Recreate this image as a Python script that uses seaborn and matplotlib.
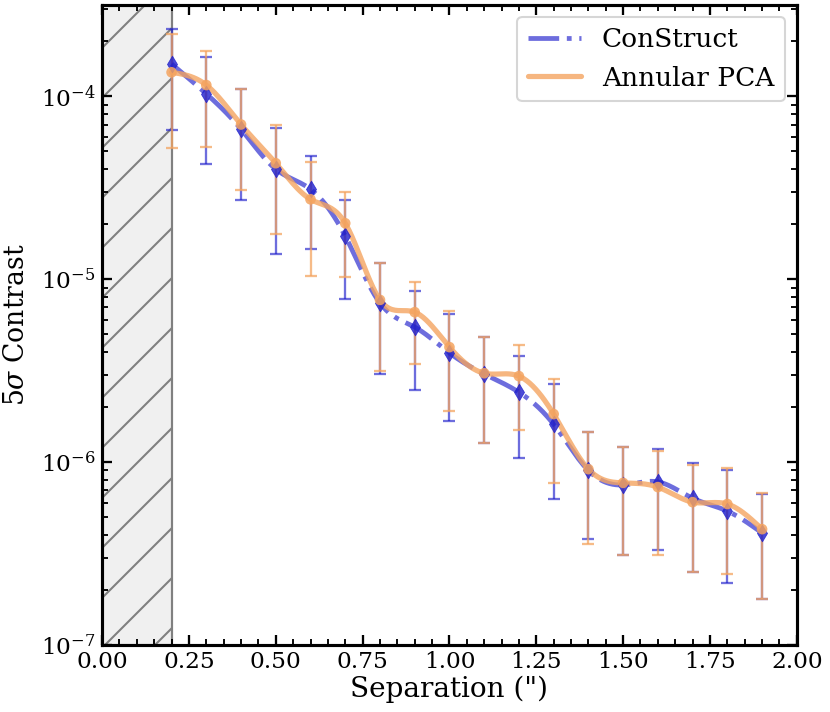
import numpy as np
import pandas as pd
import matplotlib
matplotlib.use("Agg")
import matplotlib.pyplot as plt
import seaborn as sns

# ---------------------------------------------------------------------------
# Data
# ---------------------------------------------------------------------------
separation = [0.2, 0.3, 0.4, 0.5, 0.6, 0.7, 0.8, 0.9, 1.0,
              1.1, 1.2, 1.3, 1.4, 1.5, 1.6, 1.7, 1.8, 1.9]

construct = [1.50e-4, 1.03e-4, 6.6e-5, 3.99e-5, 3.1e-5, 1.72e-5, 7.4e-6, 5.47e-6, 3.95e-6,
             3.03e-6, 2.41e-6, 1.61e-6, 9.0e-7, 7.5e-7, 7.8e-7, 6.35e-7, 5.4e-7, 4.1e-7]
construct_hi = [2.32e-4, 1.63e-4, 1.09e-4, 6.7e-5, 4.7e-5, 2.7e-5, 1.22e-5, 8.6e-6, 6.44e-6,
                4.82e-6, 3.8e-6, 2.67e-6, 1.46e-6, 1.21e-6, 1.18e-6, 9.9e-7, 9.0e-7, 6.7e-7]
construct_lo = [6.5e-5, 4.25e-5, 2.7e-5, 1.37e-5, 1.46e-5, 7.8e-6, 3.03e-6, 2.47e-6, 1.67e-6,
                1.27e-6, 1.05e-6, 6.3e-7, 3.8e-7, 3.1e-7, 3.3e-7, 2.5e-7, 2.18e-7, 1.78e-7]

annular_pca = [1.35e-4, 1.15e-4, 7.0e-5, 4.3e-5, 2.73e-5, 2.02e-5, 7.7e-6, 6.6e-6, 4.25e-6,
               3.06e-6, 2.95e-6, 1.83e-6, 9.15e-7, 7.7e-7, 7.3e-7, 6.04e-7, 5.9e-7, 4.3e-7]
annular_hi = [2.18e-4, 1.76e-4, 1.1e-4, 6.95e-5, 4.36e-5, 2.99e-5, 1.22e-5, 9.6e-6, 6.7e-6,
              4.82e-6, 4.35e-6, 2.84e-6, 1.46e-6, 1.21e-6, 1.15e-6, 9.6e-7, 9.3e-7, 6.8e-7]
annular_lo = [5.2e-5, 5.3e-5, 3.06e-5, 1.76e-5, 1.04e-5, 1.03e-5, 3.14e-6, 3.43e-6, 1.9e-6,
              1.27e-6, 1.5e-6, 7.7e-7, 3.56e-7, 3.1e-7, 3.1e-7, 2.5e-7, 2.44e-7, 1.78e-7]

inner_working_angle = 0.2


def smooth_curve(x, y, n=400):
    """Natural cubic spline through the points, done in log10(y)."""
    x = np.asarray(x, dtype=float)
    ly = np.log10(np.asarray(y, dtype=float))
    m = len(x)
    h = np.diff(x)
    a = np.zeros((m, m))
    b = np.zeros(m)
    a[0, 0] = a[-1, -1] = 1.0
    for i in range(1, m - 1):
        a[i, i - 1] = h[i - 1]
        a[i, i] = 2 * (h[i - 1] + h[i])
        a[i, i + 1] = h[i]
        b[i] = 3 * ((ly[i + 1] - ly[i]) / h[i] - (ly[i] - ly[i - 1]) / h[i - 1])
    c = np.linalg.solve(a, b)
    xs = np.linspace(x[0], x[-1], n)
    idx = np.clip(np.searchsorted(x, xs) - 1, 0, m - 2)
    dx = xs - x[idx]
    bb = (ly[idx + 1] - ly[idx]) / h[idx] - h[idx] * (2 * c[idx] + c[idx + 1]) / 3
    dd = (c[idx + 1] - c[idx]) / (3 * h[idx])
    ys = ly[idx] + bb * dx + c[idx] * dx ** 2 + dd * dx ** 3
    return xs, 10 ** ys


sns.set_style("ticks", {"axes.edgecolor": "black", "text.color": "black",
                        "xtick.color": "black", "ytick.color": "black",
                        "axes.labelcolor": "black"})
plt.rcParams["font.family"] = ["DejaVu Serif"]
plt.rcParams["mathtext.fontset"] = "dejavuserif"

blue = "#1f1fcc"
orange = "#f4a460"

DPI = 150
fig = plt.figure(figsize=(830 / DPI, 712 / DPI), dpi=DPI)
ax = fig.add_axes([0.123, 0.094, 0.837, 0.899])

# hatched region inside the inner working angle
ax.axvspan(0, inner_working_angle, facecolor="#f0f0f0", edgecolor="gray",
           hatch="/", linewidth=1.0, zorder=0)
ax.axvline(inner_working_angle, color="gray", lw=1.0, zorder=0.5)

# error bars
ax.errorbar(separation, construct,
            yerr=[np.subtract(construct, construct_lo), np.subtract(construct_hi, construct)],
            fmt="none", ecolor=blue, alpha=0.65, elinewidth=1.1, capsize=2.8, capthick=1.1,
            zorder=2)
ax.errorbar(separation, annular_pca,
            yerr=[np.subtract(annular_pca, annular_lo), np.subtract(annular_hi, annular_pca)],
            fmt="none", ecolor=orange, alpha=0.75, elinewidth=1.1, capsize=2.8, capthick=1.1,
            zorder=3)

# smooth lines
xs_c, ys_c = smooth_curve(separation, construct)
xs_a, ys_a = smooth_curve(separation, annular_pca)
curve_c = pd.DataFrame({"x": xs_c, "y": ys_c})
curve_a = pd.DataFrame({"x": xs_a, "y": ys_a})
sns.lineplot(data=curve_c, x="x", y="y", ax=ax, color=blue, alpha=0.65, lw=2.3,
             linestyle="-.", sort=False, label="ConStruct", zorder=4)
sns.lineplot(data=curve_a, x="x", y="y", ax=ax, color=orange, alpha=0.8, lw=2.5,
             sort=False, label="Annular PCA", zorder=5)

# markers
pts_c = pd.DataFrame({"x": separation, "y": construct})
pts_a = pd.DataFrame({"x": separation, "y": annular_pca})
sns.scatterplot(data=pts_c, x="x", y="y", ax=ax, marker="d", s=32, color=blue,
                alpha=0.8, edgecolor=blue, linewidth=0.4, zorder=6, legend=False)
sns.scatterplot(data=pts_a, x="x", y="y", ax=ax, marker="o", s=26, color=orange,
                alpha=0.85, edgecolor="none", zorder=7, legend=False)

ax.set_yscale("log")
ax.set_xlim(0, 2.0)
ax.set_ylim(1e-7, 3.15e-4)
ax.set_xticks(np.arange(0, 2.01, 0.25))
ax.xaxis.set_minor_locator(matplotlib.ticker.MultipleLocator(0.05))
ax.xaxis.set_major_formatter(matplotlib.ticker.FormatStrFormatter("%.2f"))

ax.tick_params(which="both", direction="in", top=True, right=True, width=1.1)
ax.tick_params(which="major", length=4.8, labelsize=11.2, pad=3)
ax.tick_params(which="minor", length=2.8, width=0.9)
for sp in ax.spines.values():
    sp.set_linewidth(1.5)

ax.set_xlabel('Separation (")', fontsize=13.4, labelpad=1)
ax.set_ylabel(r"5$\sigma$ Contrast", fontsize=12.8, labelpad=5)

ax.legend(loc="upper right", fontsize=12.7, handlelength=2.0, framealpha=0.8,
          borderaxespad=0.45)

fig.savefig("out.png", dpi=DPI)
